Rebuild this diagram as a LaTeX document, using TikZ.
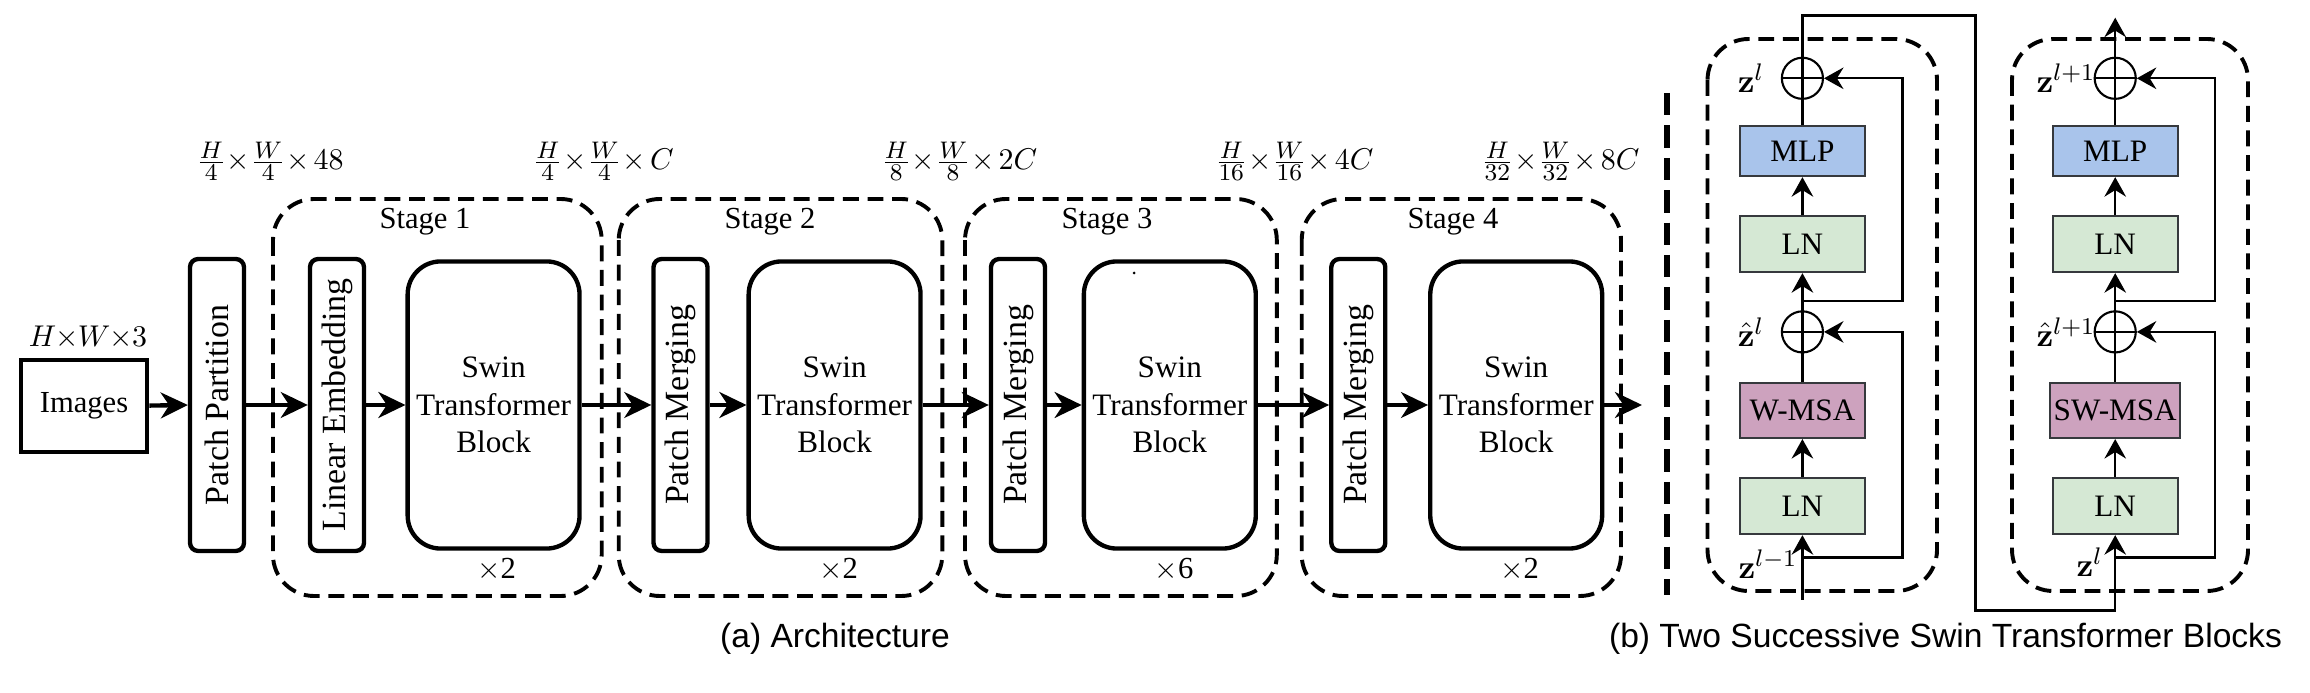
\documentclass[tikz,border=0pt]{standalone}
\usepackage[no-math]{fontspec}
\setmainfont{Liberation Serif}
\newfontfamily\capfont{Liberation Sans}
\usetikzlibrary{arrows.meta}
\DeclareMathSizes{10}{10}{8}{6}
\definecolor{mlpblue}{HTML}{A9C4EB}
\definecolor{lngreen}{HTML}{D5E8D4}
\definecolor{msapurple}{HTML}{CDA2BE}
\definecolor{boxedge}{HTML}{36393D}
\newcommand{\dimtext}[1]{{\medmuskip=2.5mu\nulldelimiterspace=0pt$#1$}}
\begin{document}
\begin{tikzpicture}[x=0.33333pt,y=-0.33333pt,
  mainarrow/.style={line width=1.45pt,-{Stealth[length=9pt,width=8.6pt,inset=2.8pt]}},
  imgbox/.style={draw,line width=1.35pt,minimum width=42.2pt,minimum height=30.7pt,inner sep=0pt,font=\fontsize{10.2}{12}\selectfont},
  strip/.style={draw,line width=1.45pt,rounded corners=2.7pt,minimum width=18pt,minimum height=97.3pt,inner sep=0pt},
  striptext/.style={rotate=90,inner sep=0pt,font=\fontsize{11.3}{13}\selectfont},
  swin/.style={draw,line width=1.45pt,rounded corners=11pt,minimum width=57.3pt,minimum height=95.7pt,align=center,inner sep=0pt,font=\fontsize{10.4}{12.4}\selectfont},
  stagebox/.style={dash pattern=on 5.3pt off 2.9pt,line width=1.3pt,rounded corners=13.7pt},
  lbl/.style={inner sep=0pt,font=\fontsize{10.2}{12}\selectfont},
  zlbl/.style={inner sep=0pt,font=\fontsize{10.8}{12}\selectfont},
  dimlbl/.style={inner sep=0pt,font=\fontsize{10}{12}\selectfont},
  rbox/.style={draw=boxedge,line width=0.75pt,minimum width=41.7pt,inner sep=0pt,font=\fontsize{10.4}{12}\selectfont},
  plusnode/.style={circle,draw,line width=0.7pt,minimum size=13.7pt,inner sep=0pt},
  rline/.style={line width=0.75pt},
  rarrow/.style={line width=0.75pt,-{Stealth[length=6.5pt,width=7.2pt,inset=2.2pt]}},
  caption/.style={inner sep=0pt,font=\capfont\fontsize{11.2}{13}\selectfont}
]
\useasboundingbox (0,0) rectangle (2310,693);

% ---------- (a) Architecture ----------
\draw[stagebox] (273,199) rectangle (601.7,596);
\draw[stagebox] (618.7,199) rectangle (942.3,596);
\draw[stagebox] (965,199) rectangle (1276.8,596);
\draw[stagebox] (1301.7,199) rectangle (1621,596);

\node[lbl] (st1) at (425,222) {Stage 1};
\node[lbl] (st2) at (770,222) {Stage 2};
\node[lbl] (st3) at (1107,222) {Stage 3};
\node[lbl] (st4) at (1453,222) {Stage 4};

\node[lbl] (rep1) at (496.7,570) {$\times$2};
\node[lbl] (rep2) at (838.6,570) {$\times$2};
\node[lbl] (rep3) at (1174,570) {$\times$6};
\node[lbl] (rep4) at (1519.5,570) {$\times$2};

\node[dimlbl] (hw3) at (88,338) {\dimtext{H\!\times\! W\!\times\! 3}};
\node[dimlbl] (d1) at (271.8,161) {\dimtext{\frac{H}{4}\times\frac{W}{4}\times 48}};
\node[dimlbl] (d2) at (605,161) {\dimtext{\frac{H}{4}\times\frac{W}{4}\times C}};
\node[dimlbl] (d3) at (961,161) {\dimtext{\frac{H}{8}\times\frac{W}{8}\times 2C}};
\node[dimlbl] (d4) at (1296,161) {\dimtext{\frac{H}{16}\times\frac{W}{16}\times 4C}};
\node[dimlbl] (d5) at (1562,161) {\dimtext{\frac{H}{32}\times\frac{W}{32}\times 8C}};

\node[imgbox] (img) at (84,405.6) {Images};
\node[strip] (pp) at (217,405) {};
\node[striptext] (ppt) at (pp.center) {Patch Partition};
\node[strip] (le) at (337,405) {};
\node[striptext] (let) at (le.center) {Linear Embedding};
\node[swin] (sw1) at (493.6,405) {Swin\\Transformer\\Block};
\node[strip] (pm2) at (680.5,405) {};
\node[striptext] (pm2t) at (pm2.center) {Patch Merging};
\node[swin] (sw2) at (834.6,405) {Swin\\Transformer\\Block};
\node[strip] (pm3) at (1018,405) {};
\node[striptext] (pm3t) at (pm3.center) {Patch Merging};
\node[swin] (sw3) at (1169.8,405) {Swin\\Transformer\\Block};
\node[strip] (pm4) at (1358.3,405) {};
\node[striptext] (pm4t) at (pm4.center) {Patch Merging};
\node[swin] (sw4) at (1516.2,405) {Swin\\Transformer\\Block};
\coordinate (outa) at (1642,405);
\fill (1134,273) circle (0.5pt);

\draw[mainarrow] (img.east) -- (pp.west);
\draw[mainarrow] (pp.east) -- (le.west);
\draw[mainarrow] (le.east) -- (sw1.west);
\draw[mainarrow] (sw1.east) -- (pm2.west);
\draw[mainarrow] (pm2.east) -- (sw2.west);
\draw[mainarrow] (sw2.east) -- (pm3.west);
\draw[mainarrow] (pm3.east) -- (sw3.west);
\draw[mainarrow] (sw3.east) -- (pm4.west);
\draw[mainarrow] (pm4.east) -- (sw4.west);
\draw[mainarrow] (sw4.east) -- (outa);

\node[caption] (capa) at (835,639) {(a) Architecture};

% separator
\draw[line width=2pt,dash pattern=on 7.5pt off 3.3pt] (1666.5,93) -- (1666.5,595);

% ---------- (b) Two blocks ----------
\draw[stagebox] (1707.5,39) rectangle (1937,591);
\draw[stagebox] (2012,39) rectangle (2248,591);

% block 1
\node[rbox,fill=lngreen,minimum height=18.7pt] (ln1) at (1802.4,506) {LN};
\node[rbox,fill=msapurple,minimum height=18.3pt] (msa1) at (1802.4,410.5) {W-MSA};
\node[plusnode] (p1) at (1802.4,331.9) {};
\node[rbox,fill=lngreen,minimum height=18.7pt] (ln2) at (1802.4,244) {LN};
\node[rbox,fill=mlpblue,minimum height=16.7pt] (mlp1) at (1802.4,151) {MLP};
\node[plusnode] (p2) at (1802.4,78.3) {};
\draw[rline] (p1.north) -- (p1.south) (p1.west) -- (p1.east);
\draw[rline] (p2.north) -- (p2.south) (p2.west) -- (p2.east);

\coordinate (in1) at (1802.4,599.6);
\coordinate (b1) at (1802.4,557.5);
\coordinate (r1) at (1902.4,331.9);
\coordinate (b2) at (1802.4,301);
\coordinate (r2) at (1902.4,78.3);
\draw[rarrow] (in1) -- (ln1.south);
\draw[rarrow] (b1) -| (r1) -- (p1.east);
\draw[rarrow] (ln1.north) -- (msa1.south);
\draw[rline] (msa1.north) -- (p1.south);
\draw[rarrow] (p1.north) -- (ln2.south);
\draw[rarrow] (b2) -| (r2) -- (p2.east);
\draw[rarrow] (ln2.north) -- (mlp1.south);
\draw[rline] (mlp1.north) -- (p2.south);

% block 2
\node[rbox,fill=lngreen,minimum height=18.7pt] (ln3) at (2115.2,506) {LN};
\node[rbox,fill=msapurple,minimum height=18.3pt,minimum width=43.3pt] (msa2) at (2115.2,410.5) {SW-MSA};
\node[plusnode] (p3) at (2115.2,331.9) {};
\node[rbox,fill=lngreen,minimum height=18.7pt] (ln4) at (2115.2,244) {LN};
\node[rbox,fill=mlpblue,minimum height=16.7pt] (mlp2) at (2115.2,151) {MLP};
\node[plusnode] (p4) at (2115.2,78.3) {};
\draw[rline] (p3.north) -- (p3.south) (p3.west) -- (p3.east);
\draw[rline] (p4.north) -- (p4.south) (p4.west) -- (p4.east);

\coordinate (top1) at (1802.4,15.5);
\coordinate (bot) at (1975.5,610.6);
\coordinate (b3) at (2115.2,557.5);
\coordinate (r3) at (2214.8,331.9);
\coordinate (b4) at (2115.2,301);
\coordinate (r4) at (2214.8,78.3);
\coordinate (out2) at (2115.2,17.7);
\draw[rarrow] (p2.north) -- (top1) -| (bot) -| (ln3.south);
\draw[rarrow] (b3) -| (r3) -- (p3.east);
\draw[rarrow] (ln3.north) -- (msa2.south);
\draw[rline] (msa2.north) -- (p3.south);
\draw[rarrow] (p3.north) -- (ln4.south);
\draw[rarrow] (b4) -| (r4) -- (p4.east);
\draw[rarrow] (ln4.north) -- (mlp2.south);
\draw[rline] (mlp2.north) -- (p4.south);
\draw[rarrow] (p4.north) -- (out2);

% labels
\node[zlbl] (z1) at (1751,78) {$\mathbf{z}^{l}$};
\node[zlbl] (zh1) at (1751,332) {$\hat{\mathbf{z}}^{l}$};
\node[zlbl] (z0) at (1768,564) {$\mathbf{z}^{l-1}$};
\node[zlbl] (z2) at (2066,78) {$\mathbf{z}^{l+1}$};
\node[zlbl] (zh2) at (2066,332) {$\hat{\mathbf{z}}^{l+1}$};
\node[zlbl] (z1b) at (2089.6,562) {$\mathbf{z}^{l}$};

\node[caption] (capb) at (1945.5,639) {(b) Two Successive Swin Transformer Blocks};
\end{tikzpicture}
\end{document}
